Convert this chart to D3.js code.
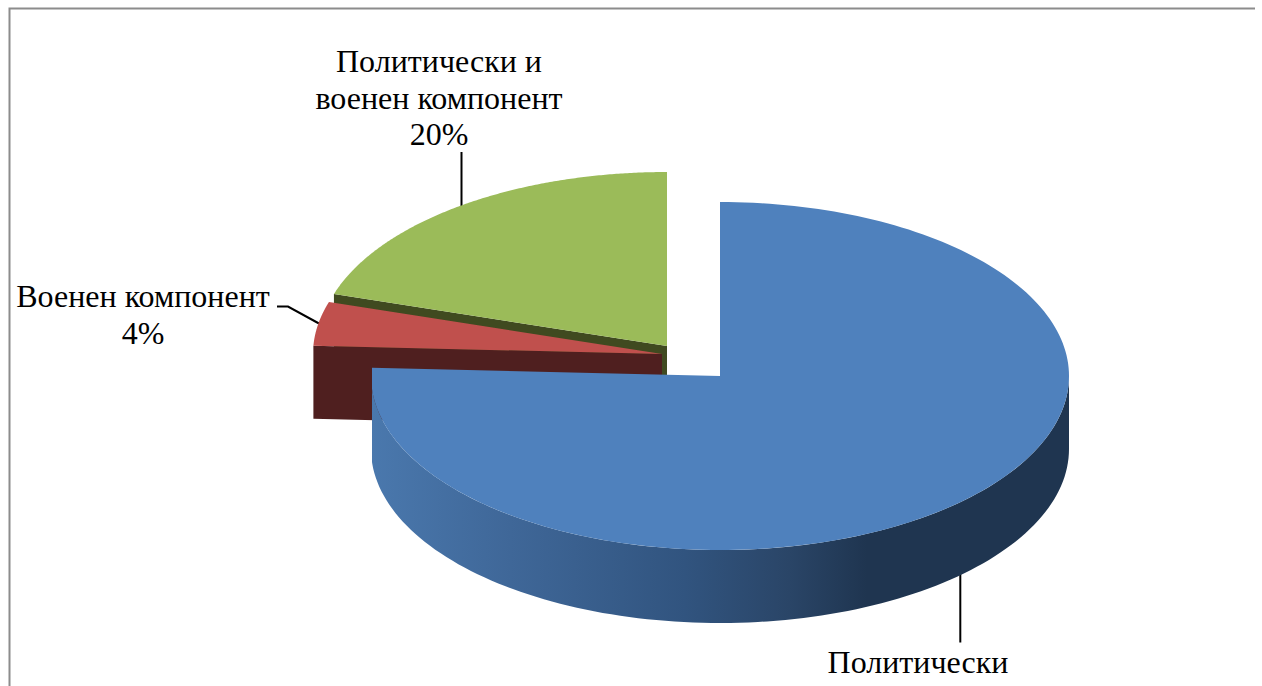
<!DOCTYPE html>
<html>
<head>
<meta charset="utf-8">
<script src="https://cdn.jsdelivr.net/npm/d3@7"></script>
<style>
    body { margin: 0; background: #fff; }
    text { font-family: "Liberation Serif", serif; font-size: 32px; fill: #000; }
</style>
</head>
<body>
<svg id="chart" width="1262" height="686"></svg>
<script>
// Data
var categories = ["Политически", "Военен компонент", "Политически и военен компонент"];
var percents = [75.76, 4.07, 20.17];
var labelLines = [
    ["Политически"],
    ["Военен компонент", "4%"],
    ["Политически и", "военен компонент", "20%"]
];

// Layout of the tilted pie
var rx = 349, ry = 174, depth = 73;
var centers = [[720, 376], [662, 354], [667, 346]];
var topColors = ["#4f81bd", "#c0504d", "#9bbb59"];
var wallColors = ["#1f3550", "#4f1f1f", "#404a20"];

var svg = d3.select("#chart");
var defs = svg.append("defs");

// Blue outer wall gets a horizontal shading
var gradient = defs.append("linearGradient")
    .attr("id", "blueWall")
    .attr("gradientUnits", "userSpaceOnUse")
    .attr("x1", 371).attr("x2", 1069).attr("y1", 0).attr("y2", 0);
gradient.selectAll("stop")
    .data([[0, "#4a78ad"], [0.2, "#3f6798"], [0.45, "#31547f"], [0.6, "#2a4567"], [0.71, "#1f3550"], [1, "#1f3550"]])
    .enter().append("stop")
    .attr("offset", function (d) { return d[0]; })
    .attr("stop-color", function (d) { return d[1]; });

// The blue slice has a straight left edge in the picture
defs.append("clipPath").attr("id", "blueClip")
    .append("rect")
    .attr("x", centers[0][0] - rx + 1)
    .attr("y", 0)
    .attr("width", 2 * rx)
    .attr("height", 686);

// Frame, open at the bottom of the picture
svg.append("path")
    .attr("d", "M9.5,686V8.5H1255")
    .attr("fill", "none")
    .attr("stroke", "#8c8c8c")
    .attr("stroke-width", 2);

var pie = d3.pie().sort(null).value(function (d) { return d; });
var slices = pie(percents);
var arc = d3.arc().innerRadius(0).outerRadius(1);
var line = d3.line();

function point(i, angle, drop) {
    return [centers[i][0] + rx * Math.sin(angle),
            centers[i][1] - ry * Math.cos(angle) + (drop || 0)];
}

// Cut face of a slice, from the tip out to the rim at the given angle
function cutFace(i, angle) {
    return line([
        centers[i],
        point(i, angle),
        point(i, angle, depth),
        [centers[i][0], centers[i][1] + depth]
    ]) + "Z";
}

// Outer wall between two angles
function outerWall(i, a0, a1) {
    var steps = d3.range(0, 121).map(function (k) { return a0 + (a1 - a0) * k / 120; });
    var upper = steps.map(function (a) { return point(i, a); });
    var lower = steps.slice().reverse().map(function (a) { return point(i, a, depth); });
    return line(upper.concat(lower)) + "Z";
}

// Leader lines go behind the pie
var leaders = [
    [[960.3, 570], [960.3, 642.5]],
    [[277, 306.5], [288, 306.5], [319, 323.5]],
    [[461.5, 152], [461.5, 208]]
];
svg.selectAll(".leader")
    .data(leaders)
    .enter().append("path")
    .attr("class", "leader")
    .attr("d", function (d) { return line(d); })
    .attr("fill", "none")
    .attr("stroke", "#000")
    .attr("stroke-width", 2);

function topFace(i, clip) {
    svg.append("path")
        .attr("clip-path", clip || null)
        .attr("d", "M" + centers[i] + "L" + d3.range(0, 201).map(function (k) {
            return point(i, slices[i].startAngle + (slices[i].endAngle - slices[i].startAngle) * k / 200);
        }).join("L") + "Z")
        .attr("fill", topColors[i]);
}

// Back to front: green, red, blue
svg.append("path").attr("d", cutFace(2, slices[2].startAngle)).attr("fill", wallColors[2]);
topFace(2);
svg.append("path").attr("d", cutFace(1, slices[1].startAngle)).attr("fill", wallColors[1]);
topFace(1);
svg.append("path")
    .attr("clip-path", "url(#blueClip)")
    .attr("d", outerWall(0, Math.PI / 2, slices[0].endAngle))
    .attr("fill", "url(#blueWall)");
topFace(0, "url(#blueClip)");

// Labels
var labelX = [918, 143, 439];
var labelY = [673, 307, 72];
var lineStep = 36.5;
var labels = svg.selectAll(".label")
    .data(labelLines)
    .enter().append("text")
    .attr("class", "label")
    .attr("text-anchor", "middle");
labels.selectAll("tspan")
    .data(function (d, i) {
        return d.map(function (t, k) { return { t: t, x: labelX[i], y: labelY[i] + k * lineStep }; });
    })
    .enter().append("tspan")
    .attr("x", function (d) { return d.x; })
    .attr("y", function (d) { return d.y; })
    .text(function (d) { return d.t; });
</script>
</body>
</html>
